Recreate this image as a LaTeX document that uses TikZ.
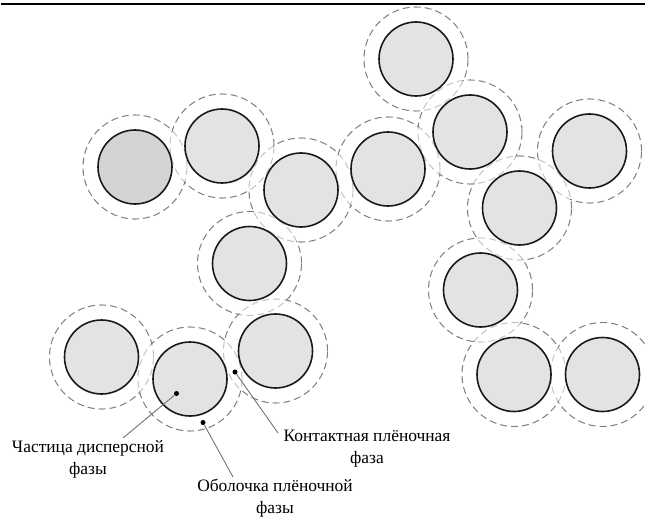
\documentclass[tikz,border=0pt]{standalone}
\usepackage{fontspec}
\setmainfont{Liberation Serif}
\begin{document}
\begin{tikzpicture}[x=1bp,y=-1bp,
  shell/.style={circle,draw=black!50,line width=1.1bp,dash pattern=on 7bp off 4bp,minimum size=104bp,inner sep=0pt,outer sep=0pt},
  veil/.style={circle,fill=white,fill opacity=0.55,minimum size=102.6bp,inner sep=0pt},
  grain/.style={circle,draw=black!90,line width=1.6bp,fill=black!11,minimum size=74bp,inner sep=0pt,outer sep=0pt},
  darkgrain/.style={grain,fill=black!17},
  marker/.style={circle,fill=black,minimum size=5bp,inner sep=0pt},
  leader/.style={draw=black!55,line width=0.9bp},
  lbl/.style={align=center,font=\fontsize{17.5}{22}\selectfont,inner sep=0pt}
]
\useasboundingbox (0,0) rectangle (645,519);
\draw[line width=1.8bp] (1,4) -- (645,4);
\foreach \n/\x/\y in {1/416/59,2/470/132,3/388/169,4/301/190,5/222/146,6/135/167,7/589.5/151,8/519.5/208,9/249.5/263.5,10/480.5/290,11/101.5/357,12/190/379,13/275.5/351,14/514/374.5,15/602.5/374.5}{
  \node[shell] (s\n) at (\x,\y) {};
}
\foreach \n/\x/\y in {1/416/59,2/470/132,3/388/169,4/301/190,5/222/146,6/135/167,7/589.5/151,8/519.5/208,9/249.5/263.5,10/480.5/290,11/101.5/357,12/190/379,13/275.5/351,14/514/374.5,15/602.5/374.5}{
  \node[veil] (v\n) at (\x,\y) {};
}
\foreach \n/\x/\y in {1/416/59,2/470/132,3/388/169,4/301/190,5/222/146,7/589.5/151,8/519.5/208,9/249.5/263.5,10/480.5/290,11/101.5/357,12/190/379,13/275.5/351,14/514/374.5,15/602.5/374.5}{
  \node[grain] (p\n) at (\x,\y) {};
}
\node[darkgrain] (p6) at (135,167) {};
\node[marker] (d1) at (176.5,393.5) {};
\node[marker] (d2) at (203,422.5) {};
\node[marker] (d3) at (235,372) {};
\coordinate (e1) at (123,438);
\coordinate (e2) at (233,477);
\coordinate (e3) at (278,433);
\draw[leader] (d1) -- (e1);
\draw[leader] (d2) -- (e2);
\draw[leader] (d3) -- (e3);
\node[lbl] (l1) at (88,459) {Частица дисперсной\\фазы};
\node[lbl] (l3) at (367,449) {Контактная плёночная\\фаза};
\node[lbl] (l2) at (275,498) {Оболочка плёночной\\фазы};
\end{tikzpicture}
\end{document}
